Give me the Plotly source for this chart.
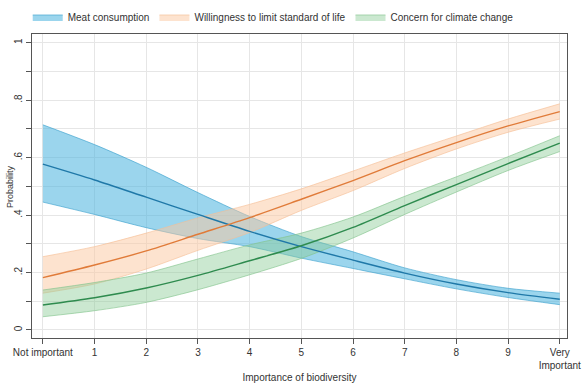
import plotly.graph_objects as go

x = [0, 1, 2, 3, 4, 5, 6, 7, 8, 9, 10]
x_labels = ["Not important", "1", "2", "3", "4", "5", "6", "7", "8", "9", "Very<br>Important"]

meat = [0.577, 0.522, 0.462, 0.402, 0.343, 0.29, 0.243, 0.198, 0.16, 0.13, 0.107]
meat_hi = [0.714, 0.645, 0.566, 0.478, 0.395, 0.325, 0.272, 0.216, 0.175, 0.145, 0.128]
meat_lo = [0.445, 0.402, 0.356, 0.318, 0.29, 0.25, 0.214, 0.178, 0.143, 0.113, 0.088]

will = [0.182, 0.226, 0.275, 0.333, 0.391, 0.455, 0.52, 0.589, 0.652, 0.71, 0.76]
will_hi = [0.255, 0.29, 0.337, 0.39, 0.437, 0.491, 0.553, 0.616, 0.675, 0.734, 0.787]
will_lo = [0.128, 0.16, 0.212, 0.277, 0.339, 0.416, 0.485, 0.562, 0.63, 0.688, 0.734]

clim = [0.087, 0.112, 0.146, 0.19, 0.241, 0.293, 0.357, 0.433, 0.506, 0.579, 0.65]
clim_hi = [0.139, 0.165, 0.198, 0.247, 0.296, 0.337, 0.393, 0.465, 0.533, 0.603, 0.676]
clim_lo = [0.046, 0.067, 0.096, 0.14, 0.192, 0.249, 0.32, 0.402, 0.48, 0.555, 0.621]

series = [
    ("Meat consumption", meat, meat_hi, meat_lo, "rgba(72,178,222,0.55)", "rgba(60,160,205,0.8)", "#1f78a8"),
    ("Willingness to limit standard of life", will, will_hi, will_lo, "rgba(252,200,160,0.5)", "rgba(245,190,150,0.8)", "#e07b39"),
    ("Concern for climate change", clim, clim_hi, clim_lo, "rgba(140,205,150,0.45)", "rgba(130,195,140,0.8)", "#2e8b4e"),
]

fig = go.Figure()
for name, mid, hi, lo, fill, edge, line in series:
    fig.add_trace(go.Scatter(
        x=x, y=lo, mode="lines", line=dict(color=edge, width=0.8, shape="spline", smoothing=0.8),
        showlegend=False, legendgroup=name, hoverinfo="skip"))
    fig.add_trace(go.Scatter(
        x=x, y=hi, mode="lines", fill="tonexty", fillcolor=fill,
        line=dict(color=edge, width=0.8, shape="spline", smoothing=0.8),
        name=name, legendgroup=name, hoverinfo="skip"))
for name, mid, hi, lo, fill, edge, line in series:
    fig.add_trace(go.Scatter(
        x=x, y=mid, mode="lines", line=dict(color=line, width=1.4, shape="spline", smoothing=0.8),
        showlegend=False, name=name))

yt = [i / 10 for i in range(11)]
ytext = ["0", "", ".2", "", ".4", "", ".6", "", ".8", "", "1"]

fig.update_layout(
    width=582, height=383,
    margin=dict(l=32, r=15, t=34, b=45, autoexpand=False),
    plot_bgcolor="white", paper_bgcolor="white",
    font=dict(family="Liberation Sans, Arial, sans-serif", size=10, color="#333"),
    showlegend=True,
    legend=dict(orientation="h", x=-0.008, xanchor="left", y=1.056, yanchor="middle",
                bgcolor="rgba(0,0,0,0)",
                font=dict(size=10, color="#333"), itemwidth=30, tracegroupgap=0),
    xaxis=dict(range=[-0.21, 10.14], tickvals=x, ticktext=x_labels, tickangle=0,
               showline=True, linecolor="#555", linewidth=1, mirror=True,
               ticks="outside", ticklen=5, tickcolor="#555", automargin=False,
               showgrid=True, gridcolor="#e6e6e6", gridwidth=1, zeroline=False,
               title=dict(text="Importance of biodiversity", font=dict(size=10), standoff=8),
               tickfont=dict(size=10)),
    yaxis=dict(range=[-0.028, 1.03], tickvals=yt, ticktext=ytext, tickangle=-90,
               showline=True, linecolor="#555", linewidth=1, mirror=True,
               ticks="outside", ticklen=5, tickcolor="#555", automargin=False,
               showgrid=True, gridcolor="#e6e6e6", gridwidth=1, zeroline=False,
               tickfont=dict(size=10)),
    annotations=[dict(text="Probability", xref="paper", yref="paper", x=-0.041, y=0.497,
                      textangle=-90, showarrow=False, font=dict(size=9, color="#333"),
                      xanchor="center", yanchor="middle")],
)

fig.write_html("out.html")
